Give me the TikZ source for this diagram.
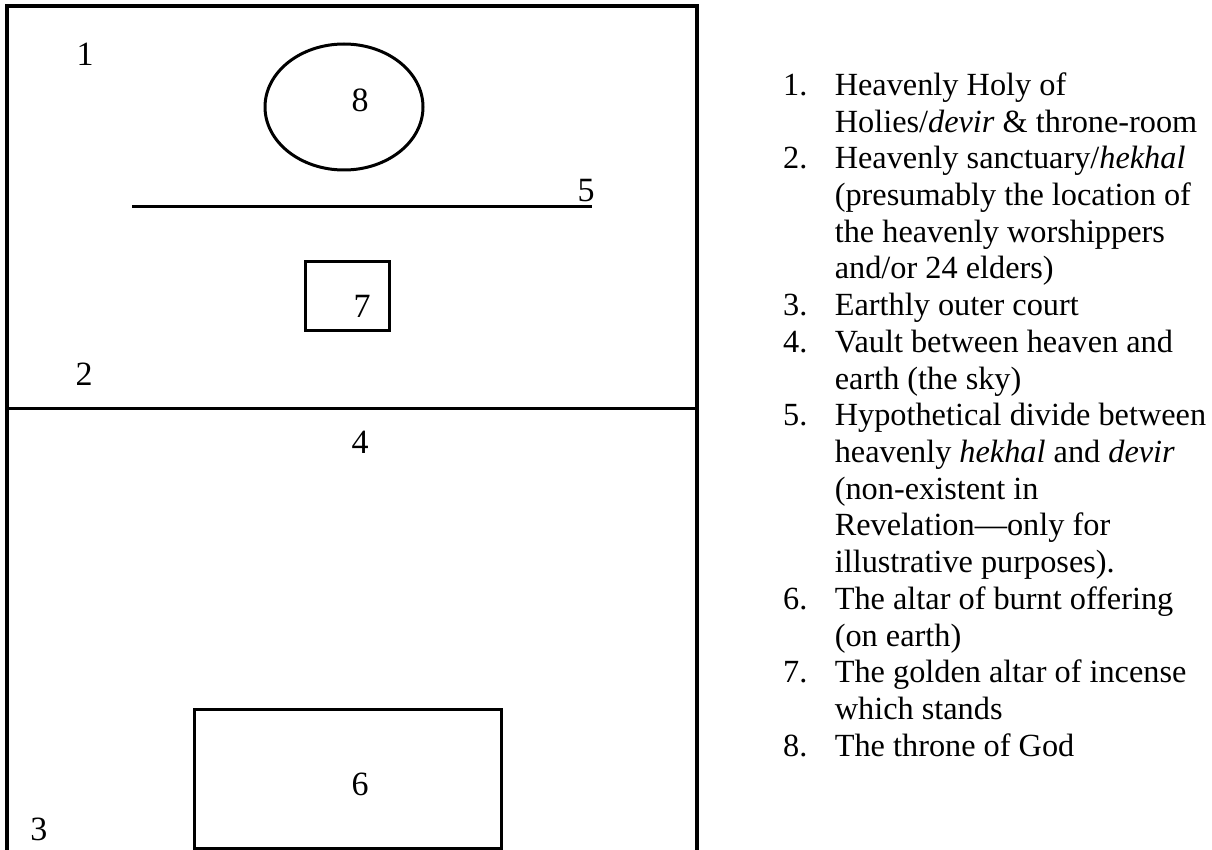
\documentclass[tikz,border=0pt]{standalone}
\usepackage{fontspec}
\setmainfont{Liberation Serif}
\usepackage{tikz}
\usetikzlibrary{positioning}
\tikzstyle{wall} = [line width=3.5pt]
\tikzstyle{part} = [line width=3pt]
\tikzstyle{lbl} = [inner sep=0pt, anchor=base, font=\fontsize{34}{40}\selectfont]
\tikzstyle{itemno} = [inner sep=0pt, anchor=base west, font=\fontsize{32.3}{36.7}\selectfont]
\tikzstyle{itemtext} = [inner sep=0pt, font=\fontsize{32.3}{36.7}\selectfont]
\newcommand{\itemlines}[1]{\begin{tabular}[t]{@{}l@{}}#1\end{tabular}}

\begin{document}
\begin{tikzpicture}[x=1pt, y=-1pt]
\useasboundingbox (0,0) rectangle (1212,850);

% temple plan
\draw [wall] (7,850) -- (7,6) -- (697,6) -- (697,850);
\draw [part] (7,408) -- (697,408);
\draw [part] (344,107) ellipse [x radius=79, y radius=63];
\draw [part] (132,207) -- (592,207);
\draw [part] (305,262) rectangle (389,330);
\draw [part] (194,709) rectangle (501,848);

\node (l1) [lbl] at (85,66)  {1};
\node (l2) [lbl] at (84,385) {2};
\node (l3) [lbl] at (39,840) {3};
\node (l4) [lbl] at (360,453) {4};
\node (l5) [lbl] at (586,202) {5};
\node (l6) [lbl] at (360,795) {6};
\node (l7) [lbl] at (362,317) {7};
\node (l8) [lbl] at (360,112) {8};

% key
\node (n1) [itemno] at (783,95.5)  {1.};
\node (n2) [itemno] at (783,168.9) {2.};
\node (n3) [itemno] at (783,315.7) {3.};
\node (n4) [itemno] at (783,352.4) {4.};
\node (n5) [itemno] at (783,425.8) {5.};
\node (n6) [itemno] at (783,609.3) {6.};
\node (n7) [itemno] at (783,682.7) {7.};
\node (n8) [itemno] at (783,756.1) {8.};

\node (t1) [itemtext, base right=27pt of n1] {\itemlines{Heavenly Holy of\\ Holies/\textit{devir} \& throne-room}};
\node (t2) [itemtext, base right=27pt of n2] {\itemlines{Heavenly sanctuary/\textit{hekhal}\\ (presumably the location of\\ the heavenly worshippers\\ and/or 24 elders)}};
\node (t3) [itemtext, base right=27pt of n3] {\itemlines{Earthly outer court}};
\node (t4) [itemtext, base right=27pt of n4] {\itemlines{Vault between heaven and\\ earth (the sky)}};
\node (t5) [itemtext, base right=27pt of n5] {\itemlines{Hypothetical divide between\\ heavenly \textit{hekhal} and \textit{devir}\\ (non-existent in\\ Revelation---only for\\ illustrative purposes).}};
\node (t6) [itemtext, base right=27pt of n6] {\itemlines{The altar of burnt offering\\ (on earth)}};
\node (t7) [itemtext, base right=27pt of n7] {\itemlines{The golden altar of incense\\ which stands}};
\node (t8) [itemtext, base right=27pt of n8] {\itemlines{The throne of God}};
\end{tikzpicture}
\end{document}
